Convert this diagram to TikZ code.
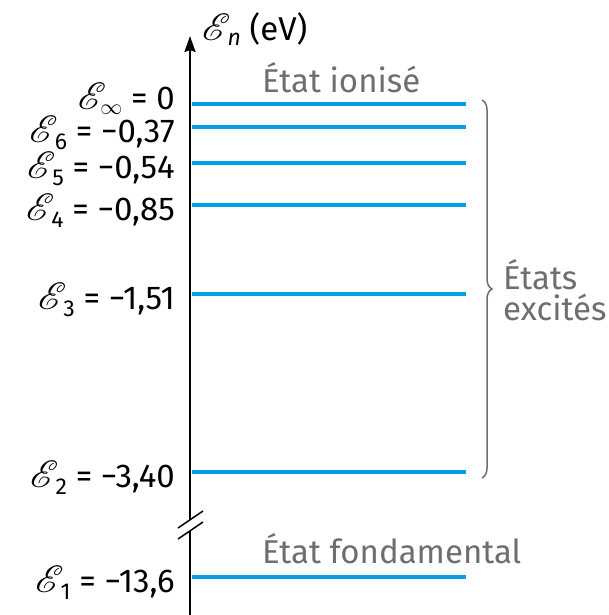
\documentclass[tikz,border=0pt]{standalone}
\usepackage{fontspec}
\setmainfont{Fira Sans}
\usepackage{mathrsfs}
\usetikzlibrary{arrows.meta,decorations.pathreplacing,calc}

\definecolor{levelblue}{RGB}{0,160,227}
\definecolor{stategray}{RGB}{110,110,110}
\newcommand{\Ecal}{\scalebox{3.8}{\normalsize$\mathscr{E}$}}
\newcommand{\En}[1]{\Ecal\kern-3pt\raisebox{-7pt}{\fontsize{23}{23}\selectfont #1}}

\begin{document}
\begin{tikzpicture}[
                    x=1pt, y=-1pt,
                    every node/.style={inner sep=0pt, font=\fontsize{33}{31}\selectfont},
                    levelline/.style={draw=levelblue, line width=3.5pt},
                    energy/.style={anchor=base east},
                    statetext/.style={text=stategray, anchor=base west}
                  ]
                  \useasboundingbox (0,0) rectangle (609,615);
                  % axe des energies, avec coupure
                  \coordinate (axis top) at (190,36);
                  \coordinate (axis cut up) at (190,520);
                  \coordinate (axis cut down) at (190,531);
                  \coordinate (axis bottom) at (190,615);
                  \draw[line width=2.3pt, -{Stealth[length=16pt,width=11pt,inset=2pt]}] (axis cut up) -- (axis top);
                  \draw[line width=2.3pt] (axis cut down) -- (axis bottom);
                  \coordinate (cut1 a) at (178,528);
                  \coordinate (cut1 b) at (203,511);
                  \coordinate (cut2 a) at (178,539);
                  \coordinate (cut2 b) at (203,522);
                  \draw[line width=1.5pt] (cut1 a) -- (cut1 b);
                  \draw[line width=1.5pt] (cut2 a) -- (cut2 b);
                  \node[anchor=base west] (axis name) at (202,41) {\Ecal\kern-3pt\raisebox{-5pt}{\fontsize{23}{23}\selectfont\itshape n} (eV)};

                  % niveaux
                  \coordinate (Einf L) at (192,104); \coordinate (Einf R) at (466,104);
                  \coordinate (E6 L) at (192,127);   \coordinate (E6 R) at (466,127);
                  \coordinate (E5 L) at (192,163);   \coordinate (E5 R) at (466,163);
                  \coordinate (E4 L) at (192,205);   \coordinate (E4 R) at (466,205);
                  \coordinate (E3 L) at (192,294);   \coordinate (E3 R) at (466,294);
                  \coordinate (E2 L) at (192,472);   \coordinate (E2 R) at (466,472);
                  \coordinate (E1 L) at (192,577);   \coordinate (E1 R) at (466,577);
                  \draw[levelline] (Einf L) -- (Einf R);
                  \draw[levelline] (E6 L) -- (E6 R);
                  \draw[levelline] (E5 L) -- (E5 R);
                  \draw[levelline] (E4 L) -- (E4 R);
                  \draw[levelline] (E3 L) -- (E3 R);
                  \draw[levelline] (E2 L) -- (E2 R);
                  \draw[levelline] (E1 L) -- (E1 R);

                  \node[energy] (Einf label) at (175,110) {\Ecal\kern-6pt\raisebox{-5pt}{\scalebox{2.2}{\normalsize$\infty$}} = 0};
                  \node[energy] (E6 label) at (175,142) {\En{6} = −0,37};
                  \node[energy] (E5 label) at (175,178) {\En{5} = −0,54};
                  \node[energy] (E4 label) at (175,220) {\En{4} = −0,85};
                  \node[energy] (E3 label) at (175,309) {\En{3} = −1,51};
                  \node[energy] (E2 label) at (175,487) {\En{2} = −3,40};
                  \node[energy] (E1 label) at (175,592) {\En{1} = −13,6};

                  % etats
                  \node[statetext] (ionised) at (262,93) {État ionisé};
                  \node[statetext] (ground) at (262,563) {État fondamental};
                  \coordinate (brace top) at (482,100);
                  \coordinate (brace bottom) at (482,478);
                  \draw[stategray, line width=1.5pt, decorate, decoration={brace, amplitude=10pt}]
                    (brace top) -- (brace bottom);
                  \node[text=stategray, align=left, anchor=west] (excited) at (503,290) {États\\excités};
                \end{tikzpicture}
\end{document}
